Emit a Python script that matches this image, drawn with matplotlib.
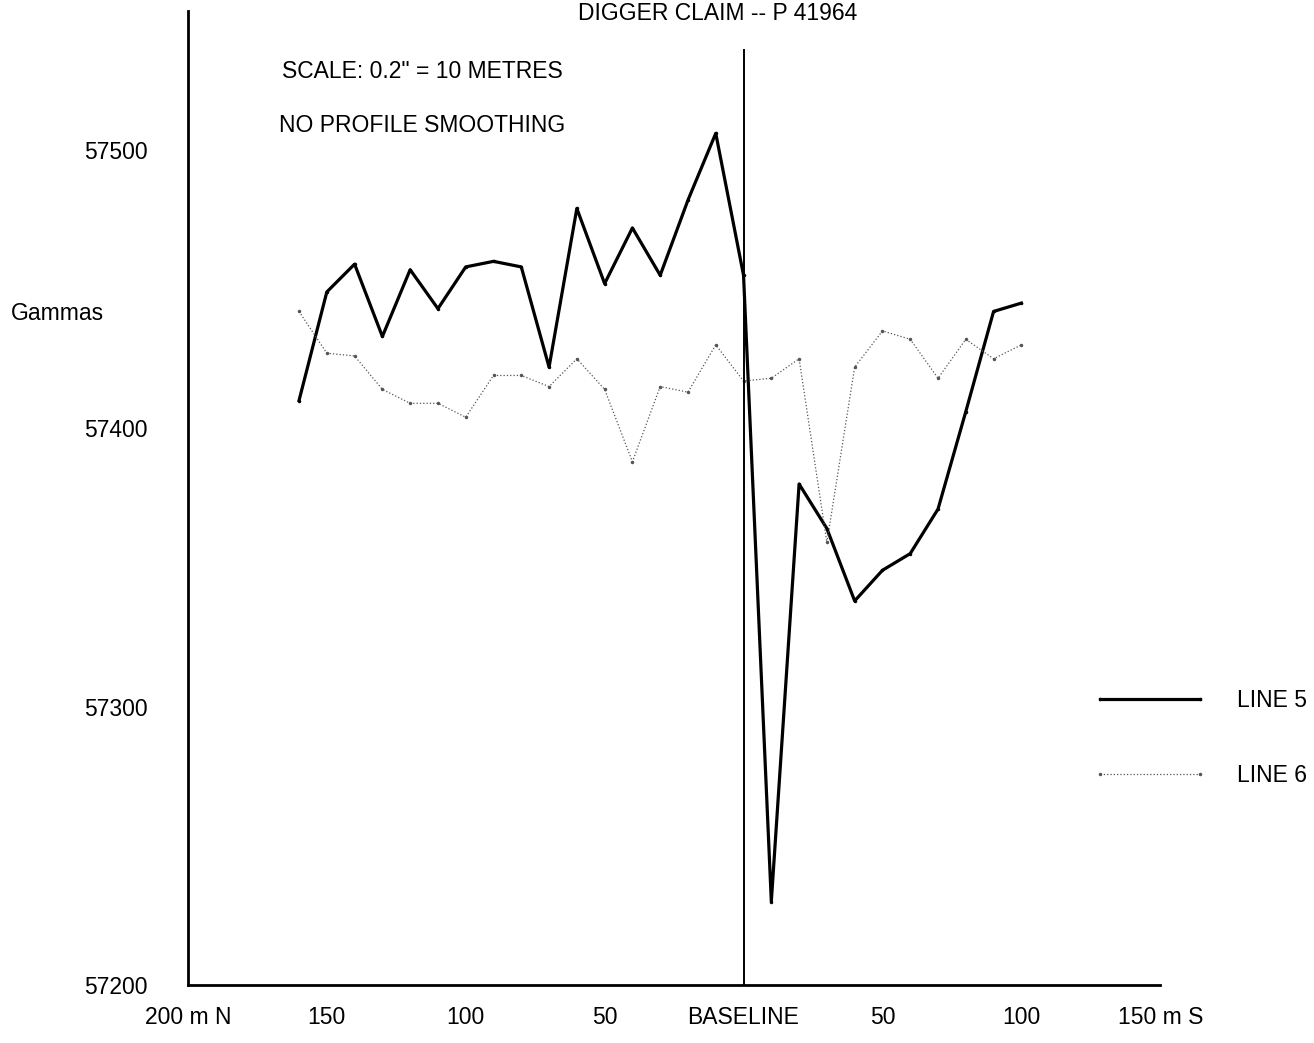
import numpy as np
import matplotlib.pyplot as plt

plt.rcParams['font.family'] = ['Liberation Sans', 'DejaVu Sans']

# stations in metres, north negative, south positive (baseline = 0)
stations = list(range(-160, 101, 10))
line5 = [57410, 57449, 57459, 57433, 57457, 57443, 57458, 57460, 57458, 57422,
         57479, 57452, 57472, 57455, 57482, 57506, 57455, 57230, 57380, 57364,
         57338, 57349, 57355, 57371, 57406, 57442, 57445]
line6 = [57442, 57427, 57426, 57414, 57409, 57409, 57404, 57419, 57419, 57415,
         57425, 57414, 57388, 57415, 57413, 57430, 57417, 57418, 57425, 57359,
         57422, 57435, 57432, 57418, 57432, 57425, 57430]

xticks = [-200, -150, -100, -50, 0, 50, 100, 150]
xlabels = ["200 m N", "150", "100", "50", "BASELINE", "50", "100", "150 m S"]
yticks = [57200, 57300, 57400, 57500]

fs = 16.5

fig = plt.figure(figsize=(13.14, 10.43), dpi=100)
ax = fig.add_axes([0.143, 0.0556, 0.740, 0.934])

ax.plot(stations, line5, color='black', lw=2.3, marker='.', ms=3, label='LINE 5')
ax.plot(stations, line6, color='#555555', lw=0.9, ls=':', marker='.', ms=3,
        label='LINE 6')
ax.axvline(0, ymin=0, ymax=0.96, color='black', lw=1.4)

ax.set_xlim(-200, 150)
ax.set_ylim(57200, 57550)
ax.set_xticks(xticks)
ax.set_xticklabels(xlabels)
ax.set_yticks(yticks)
ax.set_yticklabels([str(v) for v in yticks])
ax.tick_params(axis='both', length=0, labelsize=fs)
ax.tick_params(axis='y', pad=29)
ax.tick_params(axis='x', pad=15)
for s in ['top', 'right']:
    ax.spines[s].set_visible(False)
for s in ['left', 'bottom']:
    ax.spines[s].set_linewidth(2)

fig.text(57 / 1314, 1 - 313 / 1043, "Gammas", fontsize=fs, ha='center', va='center')
fig.text(718 / 1314, 1 - 13 / 1043, "DIGGER CLAIM -- P 41964", fontsize=fs,
         ha='center', va='center')
fig.text(422 / 1314, 1 - 72 / 1043, 'SCALE: 0.2" = 10 METRES', fontsize=fs,
         ha='center', va='center')
fig.text(422 / 1314, 1 - 126 / 1043, "NO PROFILE SMOOTHING", fontsize=fs,
         ha='center', va='center')

fig.legend(loc='center left', bbox_to_anchor=(1072 / 1314, 1 - 738 / 1043),
           frameon=False, fontsize=fs, handlelength=5.0, labelspacing=2.3,
           handletextpad=1.3, numpoints=2)

plt.savefig("out.png", dpi=100)
